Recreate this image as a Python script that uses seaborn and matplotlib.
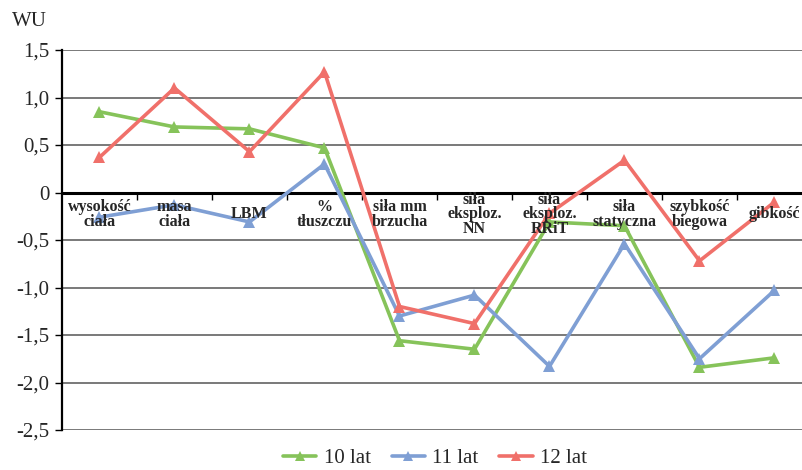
import numpy as np
import pandas as pd
import seaborn as sns
from matplotlib import pyplot as plt
from matplotlib.ticker import FixedLocator

# dane z wykresu
kategorie = ['wysokość\nciała', 'masa\nciała', 'LBM', '%\ntłuszczu', 'siła mm\nbrzucha',
             'siła\neksploz.\nNN', 'siła\neksploz.\nRRiT', 'siła\nstatyczna',
             'szybkość\nbiegowa', 'gibkość']
lat10 = [0.85, 0.69, 0.67, 0.47, -1.56, -1.65, -0.31, -0.35, -1.84, -1.74]
lat11 = [-0.26, -0.13, -0.31, 0.30, -1.30, -1.08, -1.83, -0.54, -1.75, -1.03]
lat12 = [0.37, 1.10, 0.43, 1.27, -1.20, -1.38, -0.22, 0.34, -0.72, -0.10]
grupy = ['10 lat', '11 lat', '12 lat']
kolory = ['#86c35a', '#7f9fd4', '#f0706a']
yticks = [1.5, 1.0, 0.5, 0, -0.5, -1.0, -1.5, -2.0, -2.5]
ylabels = ['1,5', '1,0', '0,5', '0', '-0,5', '-1,0', '-1,5', '-2,0', '-2,5']

df = pd.DataFrame({
    'poz': np.tile(np.arange(len(kategorie)), 3),
    'wartosc': lat10 + lat11 + lat12,
    'grupa': np.repeat(grupy, len(kategorie)),
})

sns.set_style('white')
plt.rcParams['font.family'] = ['Liberation Serif', 'DejaVu Serif']

fig = plt.figure(figsize=(8.03, 4.70), dpi=100)
ax = fig.add_axes([62 / 803, 40 / 470, 750 / 803, 380 / 470])

sns.lineplot(data=df, x='poz', y='wartosc', hue='grupa', palette=kolory, ax=ax,
             marker='^', markersize=9, markeredgewidth=0, linewidth=2.6, zorder=3)

ax.set_xlim(-0.5, len(kategorie) - 0.5)
ax.set_ylim(-2.5, 1.5)
ax.set_xlabel('')
ax.set_ylabel('')

# siatka
for y in yticks:
    if y == 0:
        ax.axhline(y, color='black', lw=2.2, zorder=2)
    else:
        ax.axhline(y, color='#555555', lw=1.1, zorder=1)

ax.set_yticks(yticks)
ax.set_yticklabels(ylabels, fontsize=15)
ax.tick_params(axis='y', direction='out', length=5, width=1, color='black', left=True, pad=4)

ax.spines['bottom'].set_position(('data', 0))
ax.spines['bottom'].set_visible(False)
ax.spines['top'].set_visible(False)
ax.spines['right'].set_visible(False)
ax.spines['left'].set_color('black')
ax.spines['left'].set_linewidth(1.6)
ax.set_xticks([])
ax.xaxis.set_minor_locator(FixedLocator(np.arange(0.5, len(kategorie) - 0.5, 1)))
ax.tick_params(axis='x', which='minor', direction='out', length=5, width=1,
               color='black', bottom=True)

for i, k in enumerate(kategorie):
    ax.text(i, -0.23, k, ha='center', va='center', fontsize=11.5,
            fontweight='bold', linespacing=0.9, zorder=5)

fig.text(12 / 803, 1 - 22 / 470, 'WU', fontsize=15, va='center', ha='left')

handles, labels = ax.get_legend_handles_labels()
for h in handles:
    h.set_markersize(7)
ax.legend(handles, labels, loc='center', bbox_to_anchor=(435 / 803, 12 / 470),
          bbox_transform=fig.transFigure, ncol=3, frameon=False, fontsize=15,
          handlelength=1.6, columnspacing=1.0, handletextpad=0.35)

plt.savefig('out.png', dpi=100)
